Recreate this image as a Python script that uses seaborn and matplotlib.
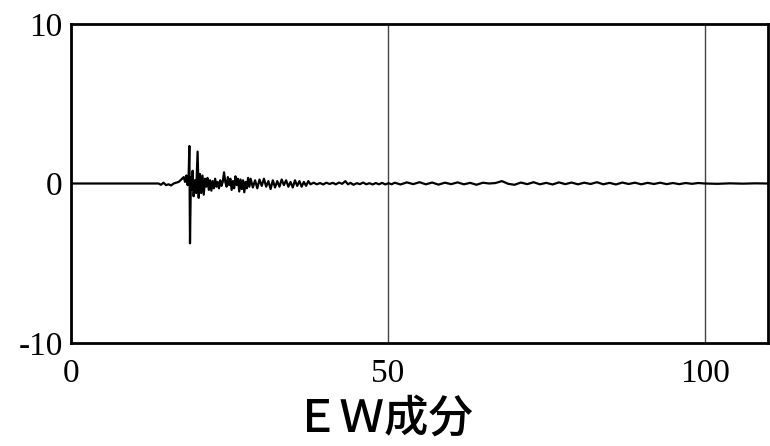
import numpy as np
import pandas as pd
import matplotlib
matplotlib.use("Agg")
import matplotlib.pyplot as plt
import seaborn as sns

# EW component acceleration trace, split into record segments
pre_t = [0.0, 13.5, 13.8, 14.2, 14.6, 15.0, 15.4, 15.8, 16.2, 16.6, 17.0, 17.4, 17.8]
pre_v = [0.0, 0.0, 0.0, -0.08, 0.05, -0.1, -0.05, -0.12, 0.0, 0.05, 0.1, 0.25, 0.4]

strong_t = [18.0, 18.2, 18.4, 18.55, 18.68, 18.78, 18.92, 19.05, 19.2, 19.35, 19.55, 19.75,
            19.98, 20.15, 20.35, 20.55, 20.75, 20.95, 21.15, 21.35, 21.55, 21.75, 21.95,
            22.15, 22.35, 22.55, 22.75, 22.95, 23.15, 23.35, 23.55, 23.75, 23.95, 24.15,
            24.35, 24.55, 24.75, 24.95, 25.15, 25.35, 25.55, 25.75, 25.95, 26.15, 26.35,
            26.55, 26.75, 26.95, 27.15, 27.35, 27.55, 27.75, 27.95, 28.15, 28.35]
strong_v = [0.1, 0.5, -0.1, 0.3, 2.35, -3.75, 0.4, -0.4, 0.8, -0.8, 0.2, -0.6,
            2.0, -0.9, 0.6, -0.6, 0.5, -0.7, 0.3, -0.2, 0.35, -0.4, 0.2,
            -0.45, 0.15, -0.3, 0.3, -0.2, 0.1, -0.3, 0.2, -0.15, 0.1, 0.7,
            0.1, -0.2, 0.4, -0.1, 0.3, -0.4, 0.15, -0.3, 0.45, -0.1, 0.3,
            -0.5, 0.25, -0.35, 0.2, -0.55, 0.1, -0.3, 0.35, -0.2, 0.3]

coda_t = [28.7, 29.05, 29.4, 29.75, 30.1, 30.45, 30.8, 31.15, 31.5, 31.85, 32.2, 32.55,
          32.9, 33.25, 33.6, 33.95, 34.3, 34.65, 35.0, 35.35, 35.7, 36.05, 36.4, 36.75,
          37.1, 37.45, 37.8, 38.3, 38.8, 39.3, 39.8, 40.3, 40.8, 41.3, 41.8, 42.3,
          42.8, 43.3, 43.7, 44.1, 44.6, 45.1, 45.6, 46.1, 46.6, 47.1, 47.6, 48.1,
          48.6, 49.1, 49.6, 50.1, 50.6, 51.1]
coda_v = [-0.25, 0.2, -0.3, 0.25, -0.15, 0.3, -0.2, 0.15, -0.35, 0.2, -0.25, 0.15,
          -0.2, 0.25, -0.1, 0.2, -0.2, 0.1, -0.25, 0.2, -0.15, 0.15, -0.2, 0.1,
          -0.15, 0.15, -0.05, 0.05, -0.05, 0.03, -0.06, 0.05, -0.03, 0.04, -0.05, 0.06,
          -0.02, 0.15, -0.05, 0.04, -0.08, 0.02, -0.04, 0.06, -0.05, 0.02, -0.06, 0.03,
          -0.05, 0.04, -0.06, 0.02, -0.05, 0.05]

tail_t = [52.0, 53.0, 54.0, 55.0, 56.0, 57.0, 58.0, 59.0, 60.0, 61.0, 62.0, 63.0, 64.0,
          65.0, 66.0, 67.0, 68.0, 69.0, 70.0, 71.0, 72.0, 73.0, 74.0, 75.0, 76.0, 77.0,
          78.0, 79.0, 80.0, 81.0, 82.0, 83.0, 84.0, 85.0, 86.0, 87.0, 88.0, 89.0, 90.0,
          91.0, 92.0, 93.0, 94.0, 95.0, 96.0, 97.0, 98.0, 99.0, 100.0, 102.0, 104.0,
          106.0, 108.0, 110.0]
tail_v = [-0.06, 0.07, -0.04, 0.08, -0.05, 0.06, -0.07, 0.05, -0.04, 0.07, -0.05, 0.04,
          -0.08, 0.05, 0.0, 0.03, 0.15, -0.02, -0.08, 0.06, -0.04, 0.08, -0.05, 0.04,
          -0.06, 0.07, -0.04, 0.06, -0.05, 0.05, -0.03, 0.08, -0.05, 0.04, -0.06, 0.06,
          -0.03, 0.05, -0.05, 0.04, -0.03, 0.05, -0.04, 0.03, -0.04, 0.03, -0.02, 0.03,
          0.0, -0.02, 0.01, -0.01, 0.01, 0.0]

x_ticks = [0, 50, 100]
y_ticks = [-10, 0, 10]
x_label = "ＥＷ成分"

df = pd.DataFrame({
    "time": pre_t + strong_t + coda_t + tail_t,
    "acc": pre_v + strong_v + coda_v + tail_v,
})

sns.set_theme(style="white")
plt.rcParams["font.family"] = ["Liberation Serif", "DejaVu Serif"]

fig = plt.figure(figsize=(7.7, 4.46), dpi=100)
ax = fig.add_axes([71 / 770, 1 - 343 / 446, 697 / 770, 319 / 446])

sns.lineplot(data=df, x="time", y="acc", ax=ax, color="black", linewidth=1.6,
             estimator=None, sort=False)

ax.set_xlim(0, 110)
ax.set_ylim(-10, 10)
ax.set_xticks(x_ticks)
ax.set_yticks(y_ticks)
ax.set_xticklabels([str(v) for v in x_ticks])
ax.set_yticklabels([str(v) for v in y_ticks])
ax.tick_params(axis="both", length=0, labelsize=24, colors="black")
ax.tick_params(axis="x", pad=11)
ax.tick_params(axis="y", pad=6)

ax.grid(axis="x", color="#444444", linewidth=1.0)
ax.grid(axis="y", visible=False)
ax.set_axisbelow(True)
for sp in ax.spines.values():
    sp.set_visible(True)
    sp.set_color("black")
    sp.set_linewidth(2.0)

ax.set_xlabel("")
ax.set_ylabel("")
fig.text(384 / 770, 1 - 419 / 446, x_label, ha="center", va="center", fontsize=32,
         fontweight="medium", family=["Noto Sans CJK JP", "DejaVu Sans"], color="black")

fig.savefig("out.png", dpi=100, facecolor="white")
